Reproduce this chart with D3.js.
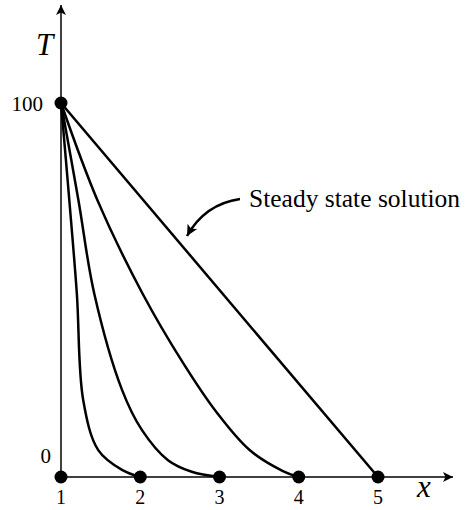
<!DOCTYPE html>
<html>
<head>
<meta charset="utf-8">
<script src="https://cdn.jsdelivr.net/npm/d3@7"></script>
<style>
  body { margin: 0; background: #fff; }
</style>
</head>
<body>
<script>
// Transient temperature profiles
const curve2 = [[1, 100], [1.105, 74], [1.2, 49], [1.28, 20.6], [1.47, 7.2], [1.77, 1.9], [2, 0]];
const curve3 = [[1, 100], [1.22, 74], [1.42, 49], [1.77, 23.3], [2.02, 12.6], [2.35, 4.5], [2.65, 1.4], [3, 0]];
const curve4 = [[1, 100], [1.46, 74], [2.03, 49], [2.54, 30.5], [2.97, 17.1], [3.38, 7.2], [3.8, 1.6], [4, 0]];
const steady = [[1, 100], [5, 0]];

const dotsX = [1, 2, 3, 4, 5];
const xTicks = [1, 2, 3, 4, 5];
const yTicks = [0, 100];
const noteText = 'Steady state solution';

const width = 467, height = 510;
const serif = '"Liberation Serif", "Times New Roman", Times, serif';

const x = d3.scaleLinear().domain([1, 5]).range([61, 378]);
const y = d3.scaleLinear().domain([0, 100]).range([477, 103]);

const svg = d3.select('body').append('svg')
    .attr('width', width)
    .attr('height', height)
    .attr('font-family', serif);

const defs = svg.append('defs');
defs.append('marker')
    .attr('id', 'axisArrow')
    .attr('viewBox', '0 0 10 10')
    .attr('refX', 10).attr('refY', 5)
    .attr('markerWidth', 16).attr('markerHeight', 10)
    .attr('markerUnits', 'userSpaceOnUse')
    .attr('orient', 'auto')
    .append('path')
    .attr('d', 'M0,0 L10,5 L0,10 L2.5,5 Z')
    .attr('fill', '#000');

defs.append('marker')
    .attr('id', 'noteArrow')
    .attr('viewBox', '0 0 10 10')
    .attr('refX', 10).attr('refY', 5)
    .attr('markerWidth', 15).attr('markerHeight', 11)
    .attr('markerUnits', 'userSpaceOnUse')
    .attr('orient', 'auto')
    .append('path')
    .attr('d', 'M0,0 L10,5 L0,10 L2.5,5 Z')
    .attr('fill', '#000');

// Axes
svg.append('line')
    .attr('x1', x(1)).attr('y1', y(0))
    .attr('x2', x(1)).attr('y2', 5)
    .attr('stroke', '#000').attr('stroke-width', 1.5)
    .attr('marker-end', 'url(#axisArrow)');

svg.append('line')
    .attr('x1', x(1)).attr('y1', y(0))
    .attr('x2', 453).attr('y2', y(0))
    .attr('stroke', '#000').attr('stroke-width', 1.5)
    .attr('marker-end', 'url(#axisArrow)');

// Curves
const line = d3.line()
    .x(d => x(d[0]))
    .y(d => y(d[1]))
    .curve(d3.curveCatmullRom.alpha(0.5));

[curve2, curve3, curve4, steady].forEach(c => {
    svg.append('path')
        .datum(c)
        .attr('d', line)
        .attr('fill', 'none')
        .attr('stroke', '#000')
        .attr('stroke-width', 2.5);
});

// Dots
svg.selectAll('.dot')
    .data(dotsX)
    .enter().append('circle')
    .attr('class', 'dot')
    .attr('cx', d => x(d))
    .attr('cy', y(0))
    .attr('r', 6.5)
    .attr('fill', '#000');

svg.append('circle')
    .attr('cx', x(1)).attr('cy', y(100))
    .attr('r', 6.5).attr('fill', '#000');

// Tick labels
svg.selectAll('.xlab')
    .data(xTicks)
    .enter().append('text')
    .attr('class', 'xlab')
    .attr('x', d => x(d))
    .attr('y', 504)
    .attr('text-anchor', 'middle')
    .attr('font-size', 20)
    .text(d => d);

svg.append('text')
    .attr('x', 43).attr('y', y(100) + 8)
    .attr('text-anchor', 'end')
    .attr('font-size', 21)
    .text(yTicks[1]);

svg.append('text')
    .attr('x', 51).attr('y', y(0) - 14)
    .attr('text-anchor', 'end')
    .attr('font-size', 21)
    .text(yTicks[0]);

// Axis titles
svg.append('text')
    .attr('x', 36).attr('y', 55)
    .attr('font-size', 31)
    .attr('font-style', 'italic')
    .text('T');

svg.append('text')
    .attr('x', 417).attr('y', 497)
    .attr('font-size', 31)
    .attr('font-style', 'italic')
    .text('x');

// Annotation
svg.append('text')
    .attr('x', 249).attr('y', 207)
    .attr('font-size', 25.5)
    .text(noteText);

svg.append('path')
    .attr('d', 'M240,199 Q205,204 187,236')
    .attr('fill', 'none')
    .attr('stroke', '#000')
    .attr('stroke-width', 2.5)
    .attr('marker-end', 'url(#noteArrow)');
</script>
</body>
</html>
